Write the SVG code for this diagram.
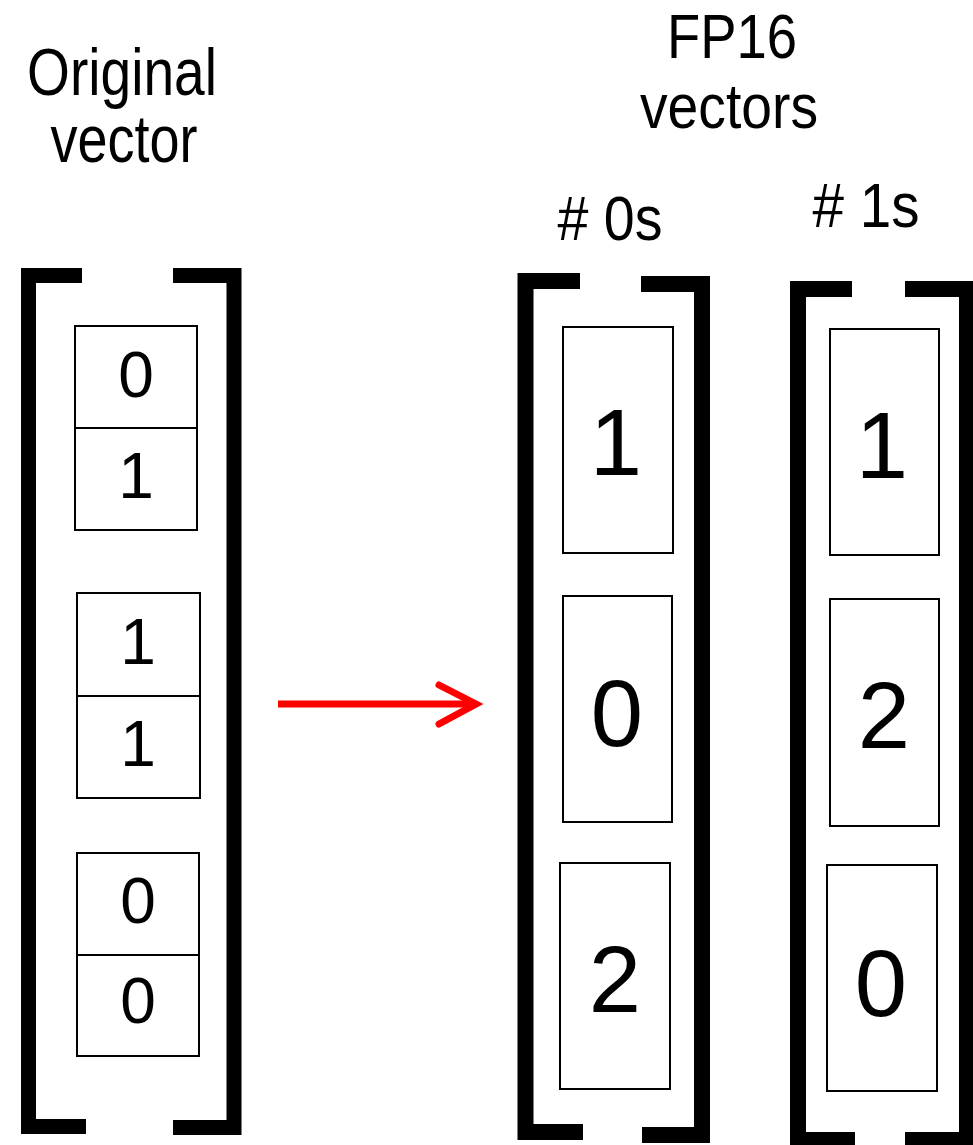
<svg xmlns="http://www.w3.org/2000/svg" width="973" height="1145" viewBox="0 0 973 1145">
  <style>
    .bracket { fill: none; stroke: #000; stroke-width: 15; stroke-linejoin: miter; stroke-linecap: butt; }
    .bracket.wide { stroke-width: 16; }
    .cell { fill: #fff; stroke: #000; stroke-width: 2; }
    .heading { font-family: "Liberation Sans", Arial, sans-serif; fill: #000; text-anchor: middle; }
    .digit { font-family: "Liberation Sans", Arial, sans-serif; fill: #000; text-anchor: middle; }
    .small { font-size: 64px; }
    .big { font-size: 94px; }
    .arrow { fill: none; stroke: #ff0000; stroke-width: 7; }
  </style>

  <!-- Headings -->
  <g id="headings">
    <text class="heading" x="122" y="95" font-size="66" textLength="190" lengthAdjust="spacingAndGlyphs">Original</text>
    <text class="heading" x="124" y="162" font-size="66" textLength="147" lengthAdjust="spacingAndGlyphs">vector</text>
    <text class="heading" x="732" y="58" font-size="63" textLength="130" lengthAdjust="spacingAndGlyphs">FP16</text>
    <text class="heading" x="729" y="128" font-size="63" textLength="178" lengthAdjust="spacingAndGlyphs">vectors</text>
    <text class="heading" x="610" y="240" font-size="63" textLength="105" lengthAdjust="spacingAndGlyphs"># 0s</text>
    <text class="heading" x="866" y="227" font-size="63" textLength="107" lengthAdjust="spacingAndGlyphs"># 1s</text>
  </g>

  <!-- Original vector: three pairs of bits -->
  <g id="original-vector">
    <path class="bracket" d="M82,275.5 H28.5 V1126.5 H86"/>
    <path class="bracket" d="M173,275.5 H234 V1127.5 H173"/>
    <rect class="cell" x="75" y="326" width="122" height="102"/>
    <rect class="cell" x="75" y="428" width="122" height="102"/>
    <rect class="cell" x="77" y="593" width="123" height="103"/>
    <rect class="cell" x="77" y="696" width="123" height="102"/>
    <rect class="cell" x="77" y="853" width="122" height="102"/>
    <rect class="cell" x="77" y="955" width="122" height="101"/>
    <text class="digit small" x="136" y="397">0</text>
    <text class="digit small" x="136" y="498">1</text>
    <text class="digit small" x="138" y="664">1</text>
    <text class="digit small" x="138" y="766">1</text>
    <text class="digit small" x="138" y="923">0</text>
    <text class="digit small" x="138" y="1023">0</text>
  </g>

  <!-- FP16 vector counting zeros -->
  <g id="fp16-zeros">
    <path class="bracket wide" d="M580,281 H525.5 V1132 H583"/>
    <path class="bracket wide" d="M641,284 H702 V1135 H642"/>
    <rect class="cell" x="563" y="327" width="110" height="226"/>
    <rect class="cell" x="563" y="596" width="109" height="226"/>
    <rect class="cell" x="560" y="863" width="110" height="226"/>
    <text class="digit big" x="616" y="475">1</text>
    <text class="digit big" x="617" y="746">0</text>
    <text class="digit big" x="615" y="1012">2</text>
  </g>

  <!-- FP16 vector counting ones -->
  <g id="fp16-ones">
    <path class="bracket wide" d="M852,289 H798 V1140 H855"/>
    <path class="bracket wide" d="M905,289 H967 V1140 H905"/>
    <rect class="cell" x="830" y="329" width="109" height="226"/>
    <rect class="cell" x="830" y="599" width="109" height="227"/>
    <rect class="cell" x="827" y="865" width="110" height="226"/>
    <text class="digit big" x="882" y="478">1</text>
    <text class="digit big" x="884" y="748">2</text>
    <text class="digit big" x="881" y="1016">0</text>
  </g>

  <!-- Connector -->
  <g id="connectors">
    <path class="arrow" d="M278,704 H476"/>
    <path class="arrow" d="M439,685 L476,704 L439,724" stroke-linecap="round" stroke-linejoin="miter"/>
  </g>
</svg>
